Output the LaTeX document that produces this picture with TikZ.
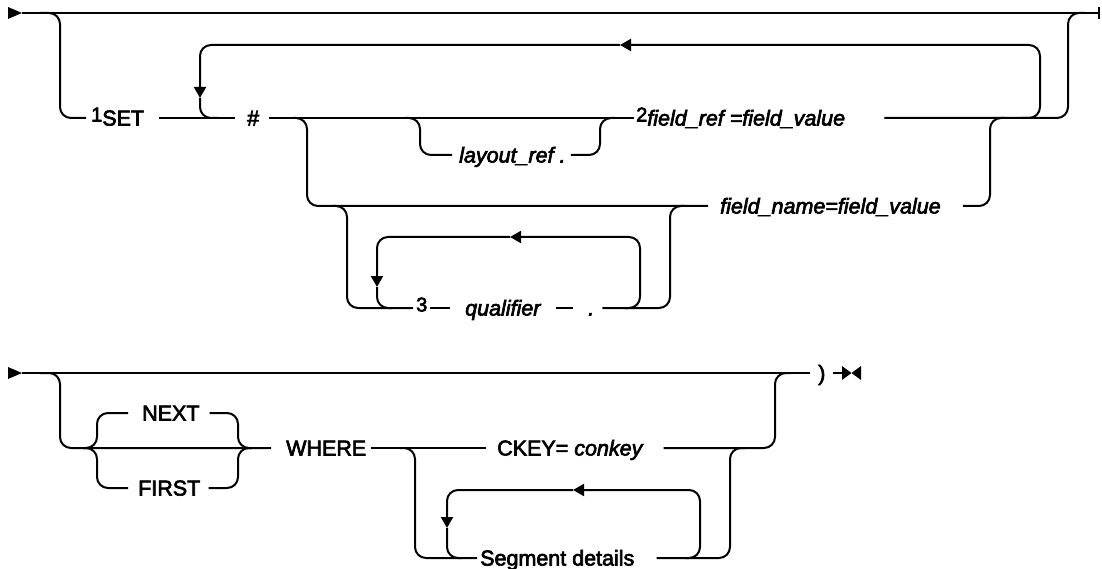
\documentclass[tikz,border=0pt]{standalone}
\usepackage{fontspec}
\setmainfont{Liberation Sans}[FakeBold=3]
\usetikzlibrary{arrows.meta}
\newcommand\supnum[1]{\raisebox{4pt}{\fontsize{20}{20}\selectfont\upshape #1}}
\begin{document}
\begin{tikzpicture}[x=1pt,y=-1pt,
  rr/.style={line width=2pt, rounded corners=11pt},
  ln/.style={line width=2pt},
  tip/.style={-{Triangle[length=11pt,width=12pt]}},
  txt/.style={inner sep=0pt, text height=15pt, text depth=0pt, anchor=west, font=\fontsize{21.5}{25}\selectfont},
  itxt/.style={txt, font=\fontsize{21.5}{25}\selectfont\itshape}]
\useasboundingbox (0,0) rectangle (1102,569);

% ---------- first diagram ----------
\coordinate (s1) at (8,13);
\fill (s1) ++(0,-6) -- ++(14,6) -- ++(-14,6) -- cycle;
\coordinate (s1t) at (22,13);
\coordinate (e1) at (1099,13);
\draw[ln] (s1t) -- (e1);
\draw[ln] (1099,7) -- (1099,19);

\node[txt] (set) at (91,118) {\supnum{1}SET};
\node[txt] (hash) at (247,118) {\#};
\node[itxt] (lref) at (459,155) {layout\_ref .};
\node[txt] (fref) at (636,118) {\supnum{2}\textit{field\_ref =field\_value}};
\node[itxt] (fname) at (720,206) {field\_name=field\_value};
\node[txt] (three) at (416,308) {\supnum{3}};
\node[itxt] (qual) at (465,308) {qualifier};
\node[itxt] (dot) at (588,308) {.};

\coordinate (j0) at (40,13);
\draw[rr] (j0) -- (60,13) -- (60,118) -- ([xshift=-5pt]set.west);
\draw[ln] ([xshift=15pt]set.east) -- ([xshift=-12pt]hash.west);
\draw[ln] ([xshift=10pt]hash.east) -- ([xshift=-2pt]fref.west);
\coordinate (j9) at (1085,13);
\draw[rr] ([xshift=39pt]fref.east) -- (1068,118) -- (1068,13) -- (j9);

% repeat loop
\coordinate (lpR) at (1022,118);
\coordinate (lpA) at (620,45);
\coordinate (lpD) at (200,98);
\coordinate (lpL) at (218,118);
\draw[rr,tip] (lpR) -- (1040,118) -- (1040,45) -- (lpA);
\draw[rr,tip] (lpA) -- (200,45) -- (lpD);
\draw[rr] (lpD) -- (200,118) -- (lpL);

% field_name branch
\coordinate (j1) at (293,118);
\draw[rr] (j1) -- (307,118) -- (307,206) -- ([xshift=-12pt]fname.west);
\coordinate (j2) at (1005,118);
\draw[rr] ([xshift=22pt]fname.east) -- (990,206) -- (990,118) -- (j2);

% layout_ref branch
\coordinate (j3) at (405,118);
\coordinate (j4) at (615,118);
\draw[rr] (j3) -- (420,118) -- (420,155) -- ([xshift=-7pt]lref.west);
\draw[rr] ([xshift=5pt]lref.east) -- (600,155) -- (600,118) -- (j4);

% qualifier branch
\coordinate (j5) at (333,206);
\coordinate (j6) at (685,206);
\draw[rr] (j5) -- (347,206) -- (347,308) -- ([xshift=-3pt]three.west);
\draw[ln] ([xshift=2pt]three.east) -- ([xshift=-15pt]qual.west);
\draw[ln] ([xshift=15pt]qual.east) -- ([xshift=-15pt]dot.west);
\draw[rr] ([xshift=8pt]dot.east) -- (670,308) -- (670,206) -- (j6);
\coordinate (q1) at (625,308);
\coordinate (q2) at (510,237);
\coordinate (q3) at (377,287);
\coordinate (q4) at (392,308);
\draw[rr,tip] (q1) -- (640,308) -- (640,237) -- (q2);
\draw[rr,tip] (q2) -- (377,237) -- (q3);
\draw[rr] (q3) -- (377,308) -- (q4);

% ---------- second diagram ----------
\coordinate (s2) at (8,373);
\fill (s2) ++(0,-6) -- ++(14,6) -- ++(-14,6) -- cycle;
\coordinate (s2t) at (22,373);

\node[txt] (next) at (142,413) {NEXT};
\node[txt] (first) at (138,488) {FIRST};
\node[txt] (where) at (286,448) {WHERE};
\node[txt] (ckey) at (497,448) {CKEY= \textit{conkey}};
\node[txt] (seg) at (480,558) {Segment details};
\node[txt] (paren) at (818,373) {)};

\draw[ln] (s2t) -- ([xshift=-8pt]paren.west);
\coordinate (e2) at (842,373);
\draw[ln] ([xshift=7pt]paren.east) -- (e2);
\fill (e2) ++(0,-7) -- ++(9.5,7) -- ++(-9.5,7) -- cycle;
\fill (861,366) -- (851.5,373) -- (861,380) -- cycle;

\coordinate (k0) at (40,373);
\draw[rr] (k0) -- (60,373) -- (60,448) -- ([xshift=-15pt]where.west);
\coordinate (k1) at (83,448);
\draw[rr] (k1) -- (97,448) -- (97,413) -- ([xshift=-14pt]next.west);
\draw[rr] (k1) -- (97,448) -- (97,488) -- ([xshift=-10pt]first.west);
\coordinate (k2) at (252,448);
\draw[rr] ([xshift=10pt]next.east) -- (238,413) -- (238,448) -- (k2);
\draw[rr] ([xshift=8pt]first.east) -- (238,488) -- (238,448) -- (k2);
\draw[ln] ([xshift=5pt]where.east) -- ([xshift=-11pt]ckey.west);
\coordinate (k3) at (790,373);
\draw[rr] ([xshift=20pt]ckey.east) -- (775,448) -- (775,373) -- (k3);
\coordinate (k4) at (400,448);
\coordinate (k5) at (745,448);
\draw[rr] (k4) -- (415,448) -- (415,558) -- ([xshift=-3pt]seg.west);
\draw[rr] ([xshift=22pt]seg.east) -- (730,558) -- (730,448) -- (k5);
\coordinate (m1) at (685,558);
\coordinate (m2) at (573,490);
\coordinate (m3) at (447,528);
\coordinate (m4) at (462,558);
\draw[rr,tip] (m1) -- (700,558) -- (700,490) -- (m2);
\draw[rr,tip] (m2) -- (447,490) -- (m3);
\draw[rr] (m3) -- (447,558) -- (m4);
\end{tikzpicture}
\end{document}
